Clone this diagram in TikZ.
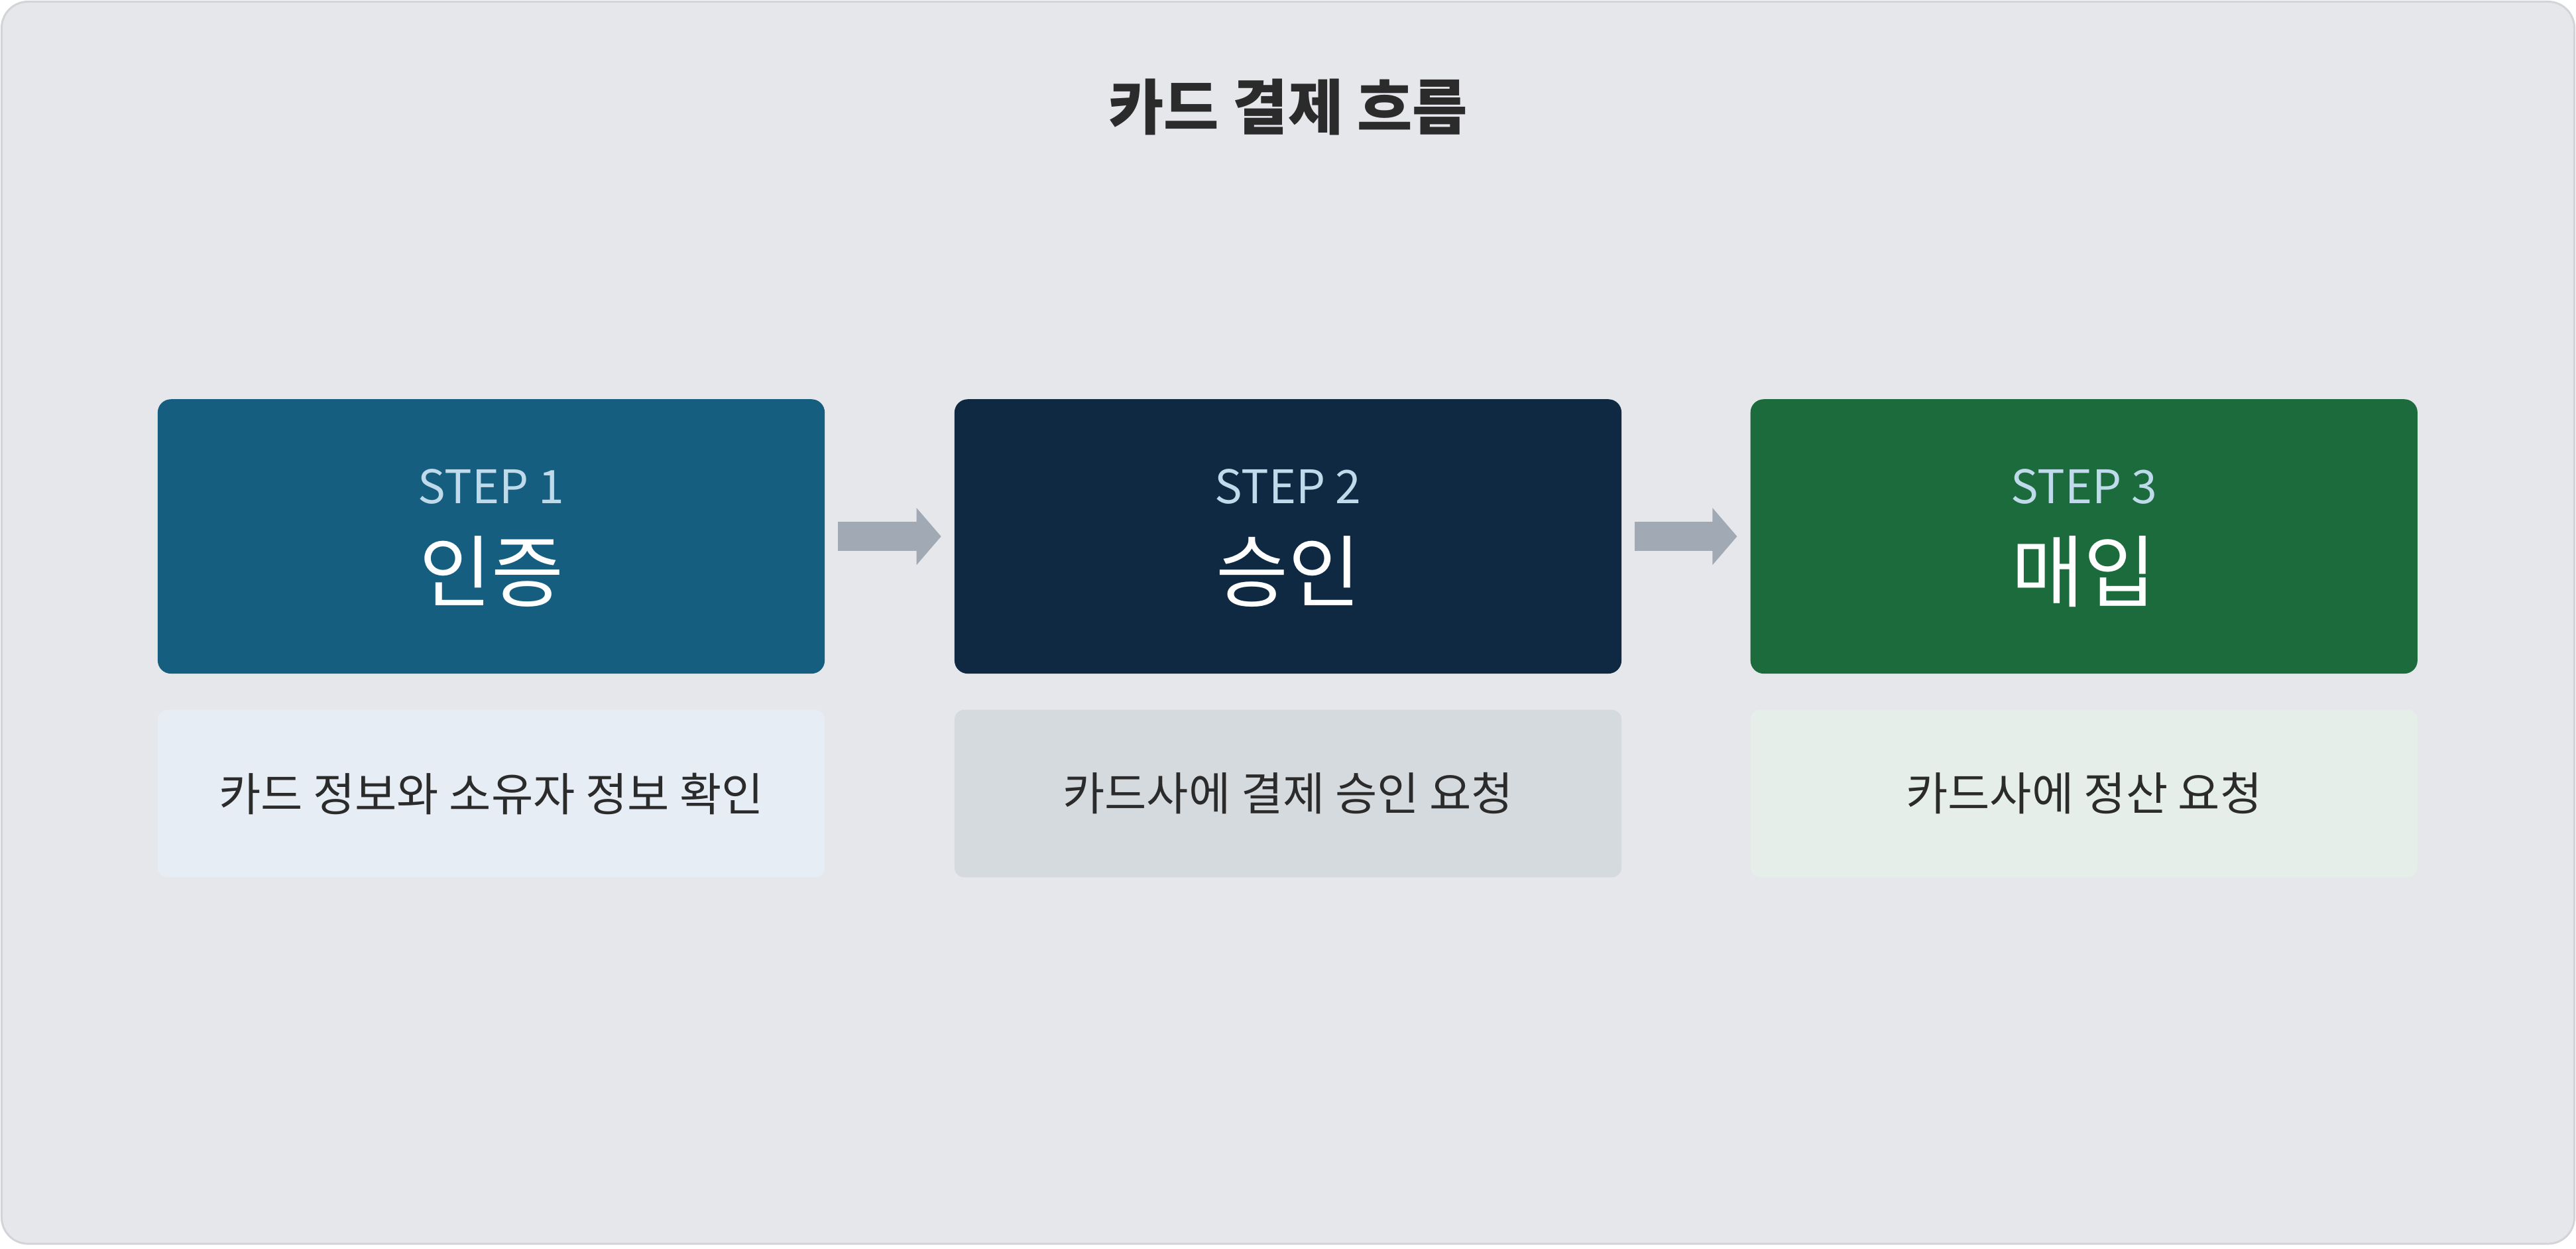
\documentclass[tikz,border=0pt]{standalone}
\usepackage{fontspec}
\setmainfont{Noto Sans CJK KR}
\usetikzlibrary{arrows.meta,positioning}
\definecolor{bgcol}{HTML}{E6E7EB}
\definecolor{bordercol}{HTML}{D2D4D8}
\definecolor{onecol}{HTML}{165E80}
\definecolor{twocol}{HTML}{0F2942}
\definecolor{threecol}{HTML}{1B6B3C}
\definecolor{onelight}{HTML}{E6EDF5}
\definecolor{twolight}{HTML}{D5DADF}
\definecolor{threelight}{HTML}{E5EEE9}
\definecolor{arrowcol}{HTML}{A1AAB4}
\definecolor{stepcol}{HTML}{BFDAEA}
\definecolor{textcol}{HTML}{2B2B2B}
\begin{document}
\begin{tikzpicture}[
    x=0.5mm, y=-0.5mm,
    stage/.style={rectangle, rounded corners=4mm, minimum width=203mm, minimum height=83.5mm, inner sep=0pt},
    note/.style={rectangle, rounded corners=3mm, minimum width=203mm, minimum height=51mm, inner sep=0pt, text=textcol, font=\fontsize{39.5}{44}\selectfont},
    stagelabel/.style={text=stepcol, font=\fontsize{40}{44}\selectfont},
    stagetitle/.style={text=white, font=\fontsize{68}{72}\selectfont},
    flow/.style={-{Triangle[length=7.5mm, width=17mm]}, line width=9mm, draw=arrowcol, shorten <=4mm, shorten >=4mm}
]

% Background
\draw[fill=bgcol, draw=bordercol, line width=0.6mm, rounded corners=8mm] (1,1) rectangle (1567,757);
\useasboundingbox (0,0) rectangle (1568,760);
\node[text=textcol, font=\fontsize{52}{58}\selectfont\bfseries] (title) at (784,65) {카드 결제 흐름};

% Stages
\node[stage, fill=onecol] (auth) at (299,326.5) {};
\node[stage, fill=twocol] (approve) at (784,326.5) {};
\node[stage, fill=threecol] (settle) at (1268.5,326.5) {};

\node[stagelabel] (authstep) at (299,296) {STEP 1};
\node[stagelabel] (approvestep) at (784,296) {STEP 2};
\node[stagelabel] (settlestep) at (1268.5,296) {STEP 3};
\node[stagetitle] (authname) at (299,348) {인증};
\node[stagetitle] (approvename) at (784,348) {승인};
\node[stagetitle] (settlename) at (1268.5,348) {매입};

% Notes
\node[note, fill=onelight] (authnote) at (299,483) {카드 정보와 소유자 정보 확인};
\node[note, fill=twolight] (approvenote) at (784,483) {카드사에 결제 승인 요청};
\node[note, fill=threelight] (settlenote) at (1268.5,483) {카드사에 정산 요청};

% Arrows
\draw[flow] (auth) -- (approve);
\draw[flow] (approve) -- (settle);

\end{tikzpicture}
\end{document}
